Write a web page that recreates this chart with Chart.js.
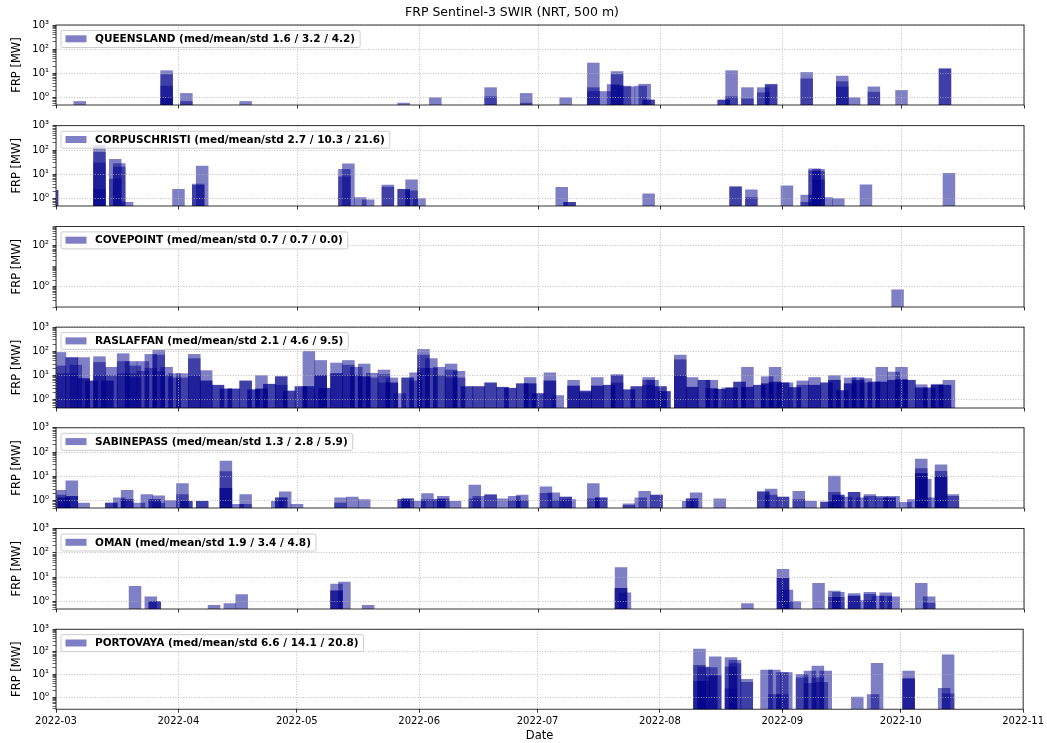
<!DOCTYPE html>
<html>
<head>
<meta charset="utf-8">
<script src="https://cdn.jsdelivr.net/npm/chart.js@4.4.0/dist/chart.umd.min.js"></script>
<style>
  html, body { margin: 0; padding: 0; background: #fff; }
  #fig { position: relative; width: 1047px; height: 743px; overflow: hidden; background: #fff; }
  #fig canvas { position: absolute; left: 0; }
</style>
</head>
<body>
<div id="fig"></div>
<script>
'use strict';

// ---- data -------------------------------------------------------------

var titleText = 'FRP Sentinel-3 SWIR (NRT, 500 m)';

var monthTicks = ['2022-03-01', '2022-04-01', '2022-05-01', '2022-06-01', '2022-07-01',
  '2022-08-01', '2022-09-01', '2022-10-01', '2022-11-01'];

var siteLabels = [
  'QUEENSLAND (med/mean/std 1.6 / 3.2 / 4.2)',
  'CORPUSCHRISTI (med/mean/std 2.7 / 10.3 / 21.6)',
  'COVEPOINT (med/mean/std 0.7 / 0.7 / 0.0)',
  'RASLAFFAN (med/mean/std 2.1 / 4.6 / 9.5)',
  'SABINEPASS (med/mean/std 1.3 / 2.8 / 5.9)',
  'OMAN (med/mean/std 1.9 / 3.4 / 4.8)',
  'PORTOVAYA (med/mean/std 6.6 / 14.1 / 20.8)'
];

// one entry per acquisition day, every detection of that day in the sub list (MW)
var queenslandDates = ['2022-03-07', '2022-03-29', '2022-04-03', '2022-04-18', '2022-05-28',
  '2022-06-05', '2022-06-19', '2022-06-28', '2022-07-08', '2022-07-15', '2022-07-18',
  '2022-07-20', '2022-07-21', '2022-07-23', '2022-07-24', '2022-07-27', '2022-07-28',
  '2022-07-29', '2022-08-17', '2022-08-19', '2022-08-23', '2022-08-27', '2022-08-29',
  '2022-09-07', '2022-09-16', '2022-09-19', '2022-09-24', '2022-10-01', '2022-10-12'];
var queenslandFrp = [[0.7], [13, 9, 3, 1], [1.5, 0.7], [0.7], [0.6],
  [1.0], [2.6, 1.1], [1.5, 0.6], [1.0], [27, 2.6, 1.8], [1.8],
  [3.5], [12, 9, 3.2], [3.0], [2.8], [3.0], [3.6],
  [0.8, 0.8], [0.8, 0.8], [13, 1.1], [2.6, 0.9], [2.6, 1.6], [3.6, 3.4],
  [11, 6], [7.8, 4.6, 2.8], [1.0], [2.8, 1.7], [2.0], [16, 15]];

var corpusDates = ['2022-02-28', '2022-03-12', '2022-03-16', '2022-03-17', '2022-03-19',
  '2022-04-01', '2022-04-06', '2022-04-07', '2022-05-13', '2022-05-14', '2022-05-17',
  '2022-05-19', '2022-05-24', '2022-05-28', '2022-05-30', '2022-06-01', '2022-07-07',
  '2022-07-09', '2022-07-29', '2022-08-20', '2022-08-24', '2022-09-02', '2022-09-07',
  '2022-09-09', '2022-09-10', '2022-09-12', '2022-09-15', '2022-09-22', '2022-10-13'];
var corpusFrp = [[2.2, 2.2], [160, 80, 30, 2.4], [41, 6.4], [28, 20], [0.7],
  [2.4], [4, 3.5], [22], [16, 8], [27], [1.1],
  [0.9], [3.6, 3.0], [2.4, 2.4], [6.0, 2.1], [1.0], [2.9],
  [0.7, 0.7], [1.6], [3.1, 3.1], [2.3, 1.1], [3.4], [1.4, 0.7],
  [17, 14], [16, 13, 6], [1.1], [1.0], [3.7], [11]];

var covepointDates = ['2022-09-30'];
var covepointFrp = [[0.7]];

var raslaffanDates = ['2022-03-02', '2022-03-05', '2022-03-06', '2022-03-08', '2022-03-10',
  '2022-03-12', '2022-03-14', '2022-03-15', '2022-03-18', '2022-03-20', '2022-03-21',
  '2022-03-23', '2022-03-25', '2022-03-27', '2022-03-29', '2022-03-31', '2022-04-02',
  '2022-04-05', '2022-04-08', '2022-04-11', '2022-04-13', '2022-04-15', '2022-04-18',
  '2022-04-20', '2022-04-22', '2022-04-24', '2022-04-27', '2022-04-29', '2022-05-02',
  '2022-05-04', '2022-05-07', '2022-05-08', '2022-05-11', '2022-05-14', '2022-05-16',
  '2022-05-18', '2022-05-20', '2022-05-23', '2022-05-25', '2022-05-27', '2022-05-29',
  '2022-05-31', '2022-06-02', '2022-06-04', '2022-06-06', '2022-06-09', '2022-06-11',
  '2022-06-13', '2022-06-16', '2022-06-19', '2022-06-22', '2022-06-24', '2022-06-27',
  '2022-06-29', '2022-07-01', '2022-07-04', '2022-07-06', '2022-07-10', '2022-07-13',
  '2022-07-16', '2022-07-19', '2022-07-21', '2022-07-24', '2022-07-26', '2022-07-29',
  '2022-07-30', '2022-08-01', '2022-08-02', '2022-08-06', '2022-08-09', '2022-08-12',
  '2022-08-14', '2022-08-16', '2022-08-18', '2022-08-19', '2022-08-21', '2022-08-23',
  '2022-08-26', '2022-08-28', '2022-08-30', '2022-09-01', '2022-09-02', '2022-09-04',
  '2022-09-06', '2022-09-09', '2022-09-12', '2022-09-14', '2022-09-16', '2022-09-18',
  '2022-09-20', '2022-09-22', '2022-09-24', '2022-09-26', '2022-09-29', '2022-10-01',
  '2022-10-03', '2022-10-06', '2022-10-08', '2022-10-10', '2022-10-12', '2022-10-13'];
var raslaffanFrp = [[90, 25, 12], [55, 55, 12], [27], [55, 7.5, 7.5], [6, 6],
  [60, 35, 10], [6, 6], [22, 10], [80, 38, 12], [38, 12], [25, 8],
  [38, 15], [75, 20], [110, 70, 15], [22, 10], [12, 8], [12, 8],
  [75, 50, 10], [16, 6, 6], [4, 4], [2.8, 2.8], [2.8, 2.8], [6, 6],
  [2.6, 2.6], [10, 2.8, 2.8], [4.4, 4.4], [9, 9, 4], [2.3, 2.3], [3.5, 3.5],
  [100, 3.5, 3.5], [42, 10, 10], [3, 3], [33, 12, 12], [42, 27, 10], [22, 10],
  [30, 9, 9], [12.5, 8], [17, 11, 5], [8, 5, 5], [1.8], [8, 8],
  [13, 6], [120, 70, 20], [50, 20], [22, 10], [30, 17, 8], [15, 8],
  [3.5, 3.5], [3.5, 3.5], [5, 5], [3.3, 3.3], [3, 3], [4.6, 4.6],
  [8.3, 4.6, 4.6], [1.8, 1.8], [13, 6, 6], [1.5], [6.4, 3.7, 3.7], [2.3, 2.3, 2],
  [8.3, 3.7, 3.7], [4, 4], [11, 10, 5], [2.6, 2.6], [3.5, 3.5], [8.3, 6.4, 4],
  [6.4], [3.5, 3.5], [2.2, 2.2], [70, 45, 10], [8.3, 3.3, 3.3], [6.4, 6.4],
  [6.4, 2.9, 2.9], [2.7, 2.7], [3.1], [3.1, 3.1], [5.4, 5.4], [22, 3.3, 3.3],
  [4, 4], [9, 4.6, 4.6], [22, 5.4, 5.4], [5, 5], [5], [3.2, 3.2],
  [6, 4], [8.3, 4, 4], [5, 5], [10, 6.4, 6.4], [2.4, 2.4], [8, 4.6, 4.6],
  [8.3, 6.4, 6.4], [7.5, 5], [5.4, 5.4], [22, 5.4, 5.4], [14, 6.4, 6.4], [22, 6.8, 6.8],
  [6.4, 6.4], [4.2, 3.1, 3.1], [3.1, 3.1], [4.4, 4, 4], [4, 4], [6.4]];

var sabineDates = ['2022-03-02', '2022-03-03', '2022-03-05', '2022-03-08', '2022-03-15',
  '2022-03-17', '2022-03-19', '2022-03-22', '2022-03-24', '2022-03-26', '2022-03-27',
  '2022-03-30', '2022-04-02', '2022-04-03', '2022-04-07', '2022-04-13', '2022-04-16',
  '2022-04-18', '2022-04-26', '2022-04-27', '2022-04-28', '2022-05-01', '2022-05-12',
  '2022-05-15', '2022-05-18', '2022-05-28', '2022-05-29', '2022-06-01', '2022-06-03',
  '2022-06-06', '2022-06-07', '2022-06-10', '2022-06-15', '2022-06-16', '2022-06-19',
  '2022-06-22', '2022-06-25', '2022-06-27', '2022-07-03', '2022-07-05', '2022-07-06',
  '2022-07-08', '2022-07-09', '2022-07-15', '2022-07-17', '2022-07-24', '2022-07-27',
  '2022-07-28', '2022-07-31', '2022-08-08', '2022-08-09', '2022-08-10', '2022-08-16',
  '2022-08-27', '2022-08-29', '2022-09-01', '2022-09-05', '2022-09-08', '2022-09-12',
  '2022-09-14', '2022-09-15', '2022-09-17', '2022-09-19', '2022-09-21', '2022-09-23',
  '2022-09-26', '2022-09-28', '2022-09-29', '2022-10-02', '2022-10-04', '2022-10-06',
  '2022-10-07', '2022-10-09', '2022-10-11', '2022-10-14'];
var sabineFrp = [[2.7, 1.7], [1.3, 1.3], [6.6, 1.5, 1.5], [0.8], [0.8, 0.8],
  [1.3], [2.7, 1.1, 1.1], [0.8], [1.8], [1.1, 1.1], [1.6, 0.8],
  [1.0], [5.1, 1.8], [0.95, 0.95], [0.95, 0.95], [43, 15.6, 3.2, 3.2], [0.7],
  [1.8, 0.7], [0.95], [1.3, 1.3], [2.3], [0.7], [1.3, 0.8],
  [1.4], [1.1], [1.1, 1.1], [1.2, 1.2], [0.95], [1.95, 1.1],
  [1.1, 1.1], [1.5, 1.2], [0.95], [4.4, 1.2], [1.5], [1.8, 1.7],
  [1.2], [1.5, 1.0], [1.7, 1.0], [3.7, 2.0], [2.1], [1.0],
  [1.4, 1.4], [1.1], [5.1, 1.2], [1.3, 1.3], [0.75, 0.65], [1.3],
  [2.4], [1.7, 1.7], [0.95], [1.2, 1.2], [2.1], [1.2],
  [2.3, 2.3], [3.0, 1.7], [1.4, 1.4], [2.4, 1.1], [0.95], [0.88, 0.88],
  [10.3, 2.2], [1.7, 1.7], [1.4], [2.2, 2.2], [1.3], [1.8, 1.5],
  [1.5, 1.3], [1.3, 1.3], [1.5], [0.85], [1.1], [51, 21, 13, 13],
  [7.5], [1.3], [30, 16, 10, 10], [1.8, 1.5]];

var omanDates = ['2022-03-21', '2022-03-25', '2022-03-26', '2022-04-10', '2022-04-14',
  '2022-04-17', '2022-05-11', '2022-05-13', '2022-05-19', '2022-07-22', '2022-07-23',
  '2022-08-23', '2022-09-01', '2022-09-02', '2022-09-04', '2022-09-10', '2022-09-14',
  '2022-09-15', '2022-09-19', '2022-09-22', '2022-09-23', '2022-09-25', '2022-09-27',
  '2022-09-29', '2022-10-06', '2022-10-08'];
var omanFrp = [[4.3], [1.56], [1.0, 1.0], [0.7], [0.83],
  [1.95], [5.2, 2.8, 2.8], [6.3], [0.7], [25, 3.5, 3.5], [2.3],
  [0.83], [21, 9, 9], [2.95], [1.0], [5.6], [2.7, 1.5],
  [2.4, 1.5], [2.15, 1.7, 1.7], [1.1], [2.4, 2.0], [1.7], [2.3, 1.7],
  [1.56], [5.6], [1.56, 0.88]];

var portovayaDates = ['2022-08-11', '2022-08-12', '2022-08-14', '2022-08-15', '2022-08-19',
  '2022-08-20', '2022-08-23', '2022-08-28', '2022-08-30', '2022-09-01', '2022-09-02',
  '2022-09-06', '2022-09-08', '2022-09-10', '2022-09-11', '2022-09-12', '2022-09-20',
  '2022-09-24', '2022-09-25', '2022-10-03', '2022-10-12', '2022-10-13'];
var portovayaFrp = [[132, 25, 5], [21, 5], [20, 8], [60, 9], [56, 21, 2.3],
  [42, 30], [6, 4.5], [15.6], [15.6, 1.27], [12, 1.27], [12],
  [10, 7], [14, 4], [23.6, 7], [4.5], [14], [1.0],
  [1.27], [31], [14, 6.4, 6.4], [2.4], [73, 1.4]];

// y ranges and labelled decades of each panel
var yMins = [0.5, 0.5, 0.1, 0.46, 0.5, 0.5, 0.29];
var yMaxs = [1000, 1000, 900, 1000, 1000, 1000, 1000];
var labelledDecades = [[0, 1, 2, 3], [0, 1, 2, 3], [0, 2], [0, 1, 2, 3], [0, 1, 2, 3], [0, 1, 2, 3], [0, 1, 2, 3]];

var panels = [
  {label: siteLabels[0], dates: queenslandDates, frp: queenslandFrp},
  {label: siteLabels[1], dates: corpusDates, frp: corpusFrp},
  {label: siteLabels[2], dates: covepointDates, frp: covepointFrp},
  {label: siteLabels[3], dates: raslaffanDates, frp: raslaffanFrp},
  {label: siteLabels[4], dates: sabineDates, frp: sabineFrp},
  {label: siteLabels[5], dates: omanDates, frp: omanFrp},
  {label: siteLabels[6], dates: portovayaDates, frp: portovayaFrp}
];

// ---- layout ------------------------------------------------------------

var figW = 1047, figH = 743;
var plotLeft = 56, plotRight = 1024, plotH = 80;
var panelTops = [25, 125.7, 226.4, 327.1, 427.8, 528.5, 629.2];
var barDays = 3;
var barColor = 'rgba(0, 0, 139, 0.5)';
var gridColor = '#b0b0b0';
var gridDash = [1, 1.6];
var fontFamily = '"DejaVu Sans", sans-serif';

Chart.defaults.font.family = fontFamily;
Chart.defaults.color = '#000';

var fig = document.getElementById('fig');

var toTime = function (s) {
  var p = s.split('-');
  return Date.UTC(+p[0], +p[1] - 1, +p[2]);
};

var xMin = toTime(monthTicks[0]);
var xMax = toTime(monthTicks[monthTicks.length - 1]);
var barPx = barDays * 86400000 * (plotRight - plotLeft) / (xMax - xMin);

var supDigits = {'-': '\u207b', '0': '\u2070', '1': '\u00b9', '2': '\u00b2', '3': '\u00b3'};
var sup = function (n) {
  return String(n).split('').map(function (c) { return supDigits[c]; }).join('');
};

var logTicks = function (yMin, yMax, labelled) {
  var ticks = [];
  for (var e = Math.floor(Math.log10(yMin)); e <= Math.ceil(Math.log10(yMax)); e++) {
    for (var m = 1; m < 10; m++) {
      var v = m * Math.pow(10, e);
      if (v >= yMin * 0.999 && v <= yMax * 1.001) {
        ticks.push({value: v, major: m === 1 && labelled.indexOf(e) >= 0, exp: e});
      }
    }
  }
  return ticks;
};

var toPoints = function (dates, frp) {
  var pts = [];
  for (var i = 0; i < dates.length; i++) {
    for (var j = 0; j < frp[i].length; j++) {
      pts.push({x: toTime(dates[i]), y: frp[i][j]});
    }
  }
  return pts;
};

var framePlugin = {
  id: 'frame',
  afterDraw: function (chart) {
    var a = chart.chartArea;
    var ctx = chart.ctx;
    ctx.save();
    ctx.strokeStyle = '#000';
    ctx.lineWidth = 0.8;
    ctx.strokeRect(a.left, a.top, a.right - a.left, a.bottom - a.top);
    ctx.restore();
  }
};

var makeLegend = function (text) {
  return {
    id: 'boxLegend',
    afterDraw: function (chart) {
      var a = chart.chartArea;
      var ctx = chart.ctx;
      ctx.save();
      ctx.font = 'bold 10.5px ' + fontFamily;
      var tw = ctx.measureText(text).width;
      var x0 = a.left + 5, y0 = a.top + 5.5, w = 34 + tw + 5, h = 17, r = 2;
      ctx.beginPath();
      ctx.moveTo(x0 + r, y0);
      ctx.lineTo(x0 + w - r, y0);
      ctx.arcTo(x0 + w, y0, x0 + w, y0 + r, r);
      ctx.lineTo(x0 + w, y0 + h - r);
      ctx.arcTo(x0 + w, y0 + h, x0 + w - r, y0 + h, r);
      ctx.lineTo(x0 + r, y0 + h);
      ctx.arcTo(x0, y0 + h, x0, y0 + h - r, r);
      ctx.lineTo(x0, y0 + r);
      ctx.arcTo(x0, y0, x0 + r, y0, r);
      ctx.closePath();
      ctx.fillStyle = 'rgba(255, 255, 255, 0.8)';
      ctx.fill();
      ctx.strokeStyle = '#cccccc';
      ctx.lineWidth = 1;
      ctx.stroke();
      ctx.fillStyle = barColor;
      ctx.fillRect(a.left + 9.5, a.top + 10.3, 21, 7);
      ctx.fillStyle = '#000';
      ctx.textBaseline = 'middle';
      ctx.fillText(text, a.left + 39, a.top + 14.3);
      ctx.restore();
    }
  };
};

var drawPanel = function (p, i) {
  var first = i === 0;
  var last = i === panels.length - 1;
  var canvasTop = first ? 0 : Math.floor(panelTops[i] - 12);
  var padTop = panelTops[i] - canvasTop;
  var axisH = last ? figH - canvasTop - padTop - plotH : 10;
  var canvas = document.createElement('canvas');
  canvas.width = figW;
  canvas.height = Math.ceil(padTop + plotH + axisH);
  canvas.style.top = canvasTop + 'px';
  fig.appendChild(canvas);

  var yMin = yMins[i], yMax = yMaxs[i], labelled = labelledDecades[i];

  return new Chart(canvas.getContext('2d'), {
    type: 'bar',
    data: {
      datasets: [{
        data: toPoints(p.dates, p.frp),
        backgroundColor: barColor,
        borderWidth: 0,
        barThickness: barPx
      }]
    },
    options: {
      responsive: false,
      animation: false,
      devicePixelRatio: 1,
      layout: {padding: {top: first ? 0 : padTop, right: figW - plotRight, bottom: 0, left: 0}},
      plugins: {
        legend: {display: false},
        tooltip: {enabled: false},
        title: {
          display: first,
          text: titleText,
          color: '#000',
          font: {size: 12.5, weight: 'normal'},
          padding: {top: 5, bottom: 5}
        }
      },
      scales: {
        x: {
          type: 'linear',
          min: xMin,
          max: xMax,
          bounds: 'data',
          offset: false,
          afterFit: function (s) { s.height = axisH; },
          afterBuildTicks: function (s) {
            s.ticks = monthTicks.map(function (m) { return {value: toTime(m)}; });
          },
          grid: {
            z: 1, offset: false, color: gridColor, lineWidth: 0.8,
            tickColor: '#000', tickWidth: 0.8, tickLength: 3.5, tickBorderDash: []
          },
          border: {display: false, dash: gridDash},
          ticks: {
            autoSkip: false, maxRotation: 0, padding: 3, font: {size: 10}, color: '#000',
            callback: function (v) { return last ? new Date(v).toISOString().slice(0, 7) : ''; }
          },
          title: {display: last, text: 'Date', color: '#000', font: {size: 11.5}, padding: {top: 0, bottom: 0}}
        },
        y: {
          type: 'logarithmic',
          min: yMin,
          max: yMax,
          bounds: 'data',
          afterFit: function (s) { s.width = plotLeft; },
          afterBuildTicks: function (s) { s.ticks = logTicks(yMin, yMax, labelled); },
          grid: {
            z: 1,
            color: function (c) { return c.tick && c.tick.major ? gridColor : 'rgba(0,0,0,0)'; },
            lineWidth: 0.8,
            tickColor: '#000',
            tickWidth: function (c) { return c.tick && c.tick.major ? 0.8 : 0.6; },
            tickLength: 3.5, tickBorderDash: []
          },
          border: {display: false, dash: gridDash},
          ticks: {
            autoSkip: false, padding: 3.5, font: {size: 10}, color: '#000',
            callback: function (v, idx, ticks) {
              var t = ticks[idx];
              return t.major ? '10' + sup(t.exp) : '';
            }
          },
          title: {display: true, text: 'FRP [MW]', color: '#000', font: {size: 11.5}, padding: {top: 10, bottom: 0}}
        }
      }
    },
    plugins: [makeLegend(p.label), framePlugin]
  });
};

panels.forEach(drawPanel);
</script>
</body>
</html>
